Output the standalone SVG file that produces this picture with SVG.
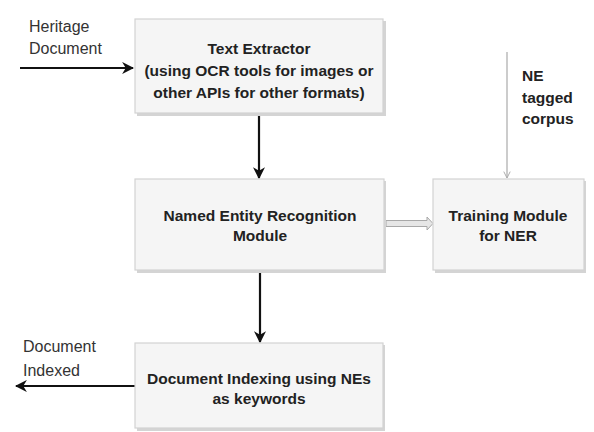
<svg xmlns="http://www.w3.org/2000/svg" width="594" height="432" viewBox="0 0 594 432">
<defs>
<style>
.box{fill:#f5f5f5;stroke:#d2d2d2;stroke-width:1.2}
.sh{fill:#d4d4d4}
.bt{font-family:"Liberation Sans",Arial,sans-serif;font-weight:bold;font-size:15.5px;fill:#222;text-anchor:middle}
.lb{font-family:"Liberation Sans",Arial,sans-serif;font-size:16px;fill:#333}
.ar{stroke:#111;stroke-width:2.2;fill:none}
</style>
<marker id="ah" viewBox="0 0 10 10" refX="9" refY="5" markerWidth="5.5" markerHeight="5.5" orient="auto" markerUnits="strokeWidth">
<path d="M0,0 L10,5 L0,10 L3,5 z" fill="#111"/>
</marker>
<marker id="ahg" viewBox="0 0 10 10" refX="9" refY="5" markerWidth="8" markerHeight="8" orient="auto" markerUnits="userSpaceOnUse">
<path d="M1,1 L9,5 L1,9" fill="none" stroke="#aaa" stroke-width="1.2"/>
</marker>
</defs>
<rect width="594" height="432" fill="#fff"/>
<g id="connectors">
<line class="ar" x1="20" y1="68" x2="133" y2="68" marker-end="url(#ah)"/>
<line class="ar" x1="259" y1="114" x2="259" y2="178" marker-end="url(#ah)"/>
<line class="ar" x1="260" y1="271" x2="260" y2="342" marker-end="url(#ah)"/>
<line class="ar" x1="135" y1="386" x2="16" y2="386" marker-end="url(#ah)"/>
<line x1="507" y1="52" x2="507" y2="178" stroke="#999" stroke-width="1" marker-end="url(#ahg)"/>
<g id="dbl">
<path d="M386,220.5 L427,220.5 L427,217 L433,223.5 L427,230 L427,226.5 L386,226.5 Z" fill="#e6e6e6" stroke="#a8a8a8" stroke-width="1"/>
</g>
</g>
<g id="n1">
<rect class="sh" x="137" y="21" width="249" height="95"/>
<rect class="box" x="135" y="19" width="248" height="94"/>
<text class="bt" x="259" y="54">Text Extractor</text>
<text class="bt" x="259" y="76">(using OCR tools for images or</text>
<text class="bt" x="259" y="98">other APIs for other formats)</text>
</g>
<g id="n2">
<rect class="sh" x="137" y="181" width="249" height="92"/>
<rect class="box" x="135" y="179" width="249" height="91"/>
<text class="bt" x="260" y="221">Named Entity Recognition</text>
<text class="bt" x="260" y="241">Module</text>
</g>
<g id="n3">
<rect class="sh" x="435" y="181" width="151" height="92"/>
<rect class="box" x="433" y="179" width="151" height="91"/>
<text class="bt" x="508" y="221">Training Module</text>
<text class="bt" x="508" y="241">for NER</text>
</g>
<g id="n4">
<rect class="sh" x="137" y="345" width="248" height="86"/>
<rect class="box" x="135" y="343" width="248" height="85"/>
<text class="bt" x="259" y="384">Document Indexing using NEs</text>
<text class="bt" x="259" y="404">as keywords</text>
</g>
<g id="labels">
<text class="lb" x="29" y="32">Heritage</text>
<text class="lb" x="29" y="54">Document</text>
<text class="bt" x="522" y="81" style="text-anchor:start">NE</text>
<text class="bt" x="522" y="103" style="text-anchor:start">tagged</text>
<text class="bt" x="522" y="124" style="text-anchor:start">corpus</text>
<text class="lb" x="23" y="352">Document</text>
<text class="lb" x="23" y="376">Indexed</text>
</g>
</svg>
